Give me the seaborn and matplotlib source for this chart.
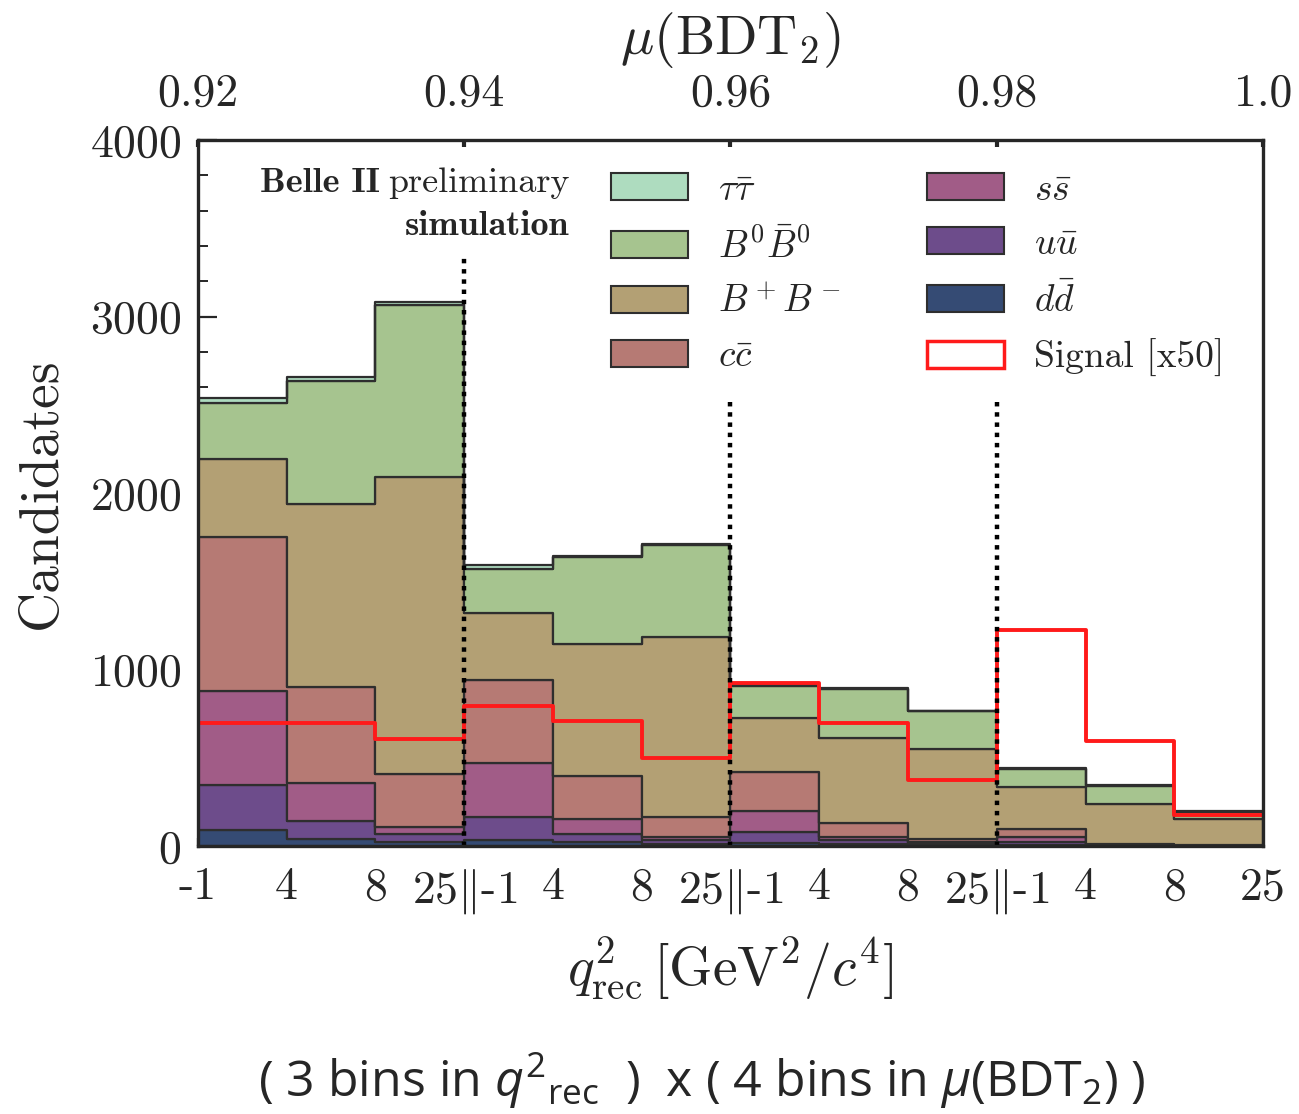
import numpy as np
import pandas as pd
import matplotlib
matplotlib.use("Agg")
import matplotlib.pyplot as plt
from matplotlib.patches import Patch
from matplotlib.ticker import MultipleLocator
import seaborn as sns

# 12 analysis bins = 3 bins in q2_rec x 4 bins in mu(BDT2)
n_bins = 12
bin_edges = np.arange(n_bins + 1)
bin_centers = bin_edges[:-1] + 0.5

# background yields per bin (not cumulative)
tautau = [24, 24, 15, 25, 8, 7, 9, 5, 4, 4, 4, 4]
b0b0 = [319, 699, 974, 245, 492, 519, 183, 280, 213, 103, 104, 39]
bpbm = [442, 1033, 1687, 382, 748, 1022, 306, 478, 508, 236, 226, 150]
ccbar = [873, 544, 297, 472, 240, 111, 217, 79, 22, 46, 4, 2]
ssbar = [532, 216, 41, 306, 87, 21, 119, 19, 8, 25, 2, 1]
uubar = [258, 103, 43, 128, 44, 22, 66, 24, 7, 17, 2, 1]
ddbar = [88, 40, 25, 34, 24, 10, 15, 10, 5, 8, 2, 1]
signal_x50 = [697, 697, 604, 793, 708, 497, 925, 695, 376, 1225, 595, 176]

q2_labels = ["-1", "4", "8", r"25$\Vert$-1", "4", "8", r"25$\Vert$-1",
             "4", "8", r"25$\Vert$-1", "4", "8", "25"]
bdt_ticks = [0.92, 0.94, 0.96, 0.98, 1.0]
bdt_labels = ["0.92", "0.94", "0.96", "0.98", "1.0"]

names = [r"$\tau\bar{\tau}$", r"$B^0\bar{B}^0$", r"$B^+B^-$", r"$c\bar{c}$",
         r"$s\bar{s}$", r"$u\bar{u}$", r"$d\bar{d}$"]
yields = [tautau, b0b0, bpbm, ccbar, ssbar, uubar, ddbar]
colors = ["#aedcbf", "#a6c48f", "#b3a074", "#b67a74", "#a15c87", "#6d4c8b", "#354b74"]

rows = []
for name, vals in zip(names, yields):
    for c, v in zip(bin_centers, vals):
        rows.append({"bin": c, "count": v, "process": name})
df = pd.DataFrame(rows)
sig = pd.DataFrame({"bin": bin_centers, "count": signal_x50})

sns.set_style("ticks")
plt.rcParams["font.family"] = "serif"
plt.rcParams["font.serif"] = ["cmr10", "DejaVu Serif"]
plt.rcParams["mathtext.fontset"] = "cm"
plt.rcParams["axes.unicode_minus"] = False
plt.rcParams["axes.formatter.use_mathtext"] = True
plt.rcParams["mathtext.rm"] = "Open Sans"
plt.rcParams["mathtext.it"] = "Open Sans:italic"

fig = plt.figure(figsize=(12.99, 11.14), dpi=100)
ax = fig.add_axes([0.1524, 0.2406, 0.8199, 0.6337])

# stacked backgrounds: first hue level ends up on top of the stack
sns.histplot(data=df, x="bin", weights="count", hue="process", hue_order=names,
             palette=dict(zip(names, colors)), bins=n_bins, binrange=(0, n_bins),
             multiple="stack", element="step", edgecolor="#2e2e2e", linewidth=1.6,
             alpha=1, legend=False, ax=ax)

# signal scaled by 50
sns.histplot(data=sig, x="bin", weights="count", bins=n_bins, binrange=(0, n_bins),
             element="step", fill=False, color="#ff1a1a", linewidth=2.8, ax=ax)

# separators between the mu(BDT2) bins
ax.vlines(3, 0, 3330, colors="black", linestyles=(0, (1, 1.3)), linewidth=3.2)
ax.vlines([6, 9], 0, 2540, colors="black", linestyles=(0, (1, 1.3)), linewidth=3.2)

ax.set_xlim(0, n_bins)
ax.set_ylim(0, 4000)
ax.set_xticks(bin_edges)
ax.set_xticklabels(q2_labels)
ax.yaxis.set_major_locator(MultipleLocator(1000))
ax.yaxis.set_minor_locator(MultipleLocator(200))
ax.tick_params(axis="both", which="major", direction="in", labelsize=33, width=1.6)
ax.tick_params(axis="y", which="major", length=14, pad=12)
ax.tick_params(axis="y", which="minor", direction="in", length=7, width=1.4)
ax.tick_params(axis="x", which="major", length=6, pad=15)
ax.set_xlabel(r"$q^2_{\rm rec}\,[\mathrm{GeV}^2/c^4]$", fontsize=40, labelpad=14)
ax.set_ylabel("Candidates", fontsize=40, labelpad=16)
for s in ax.spines.values():
    s.set_linewidth(2.4)

ax2 = ax.twiny()
ax2.set_xlim(0.92, 1.0)
ax2.set_xticks(bdt_ticks)
ax2.set_xticklabels(bdt_labels)
ax2.tick_params(axis="x", direction="in", length=5, width=3, labelsize=33, pad=18)
ax2.set_xlabel(r"$\mu(\mathrm{BDT}_2)$", fontsize=40, labelpad=14)

# "Belle II preliminary / simulation" block, right-aligned
t_pre = ax.text(0.349, 0.939, "preliminary", transform=ax.transAxes,
                ha="right", va="center", fontsize=26, family="cmr10")
ax.text(0.349, 0.878, "simulation", transform=ax.transAxes,
        ha="right", va="center", fontsize=26, family="cmb10")
fig.canvas.draw()
bb = t_pre.get_window_extent().transformed(ax.transAxes.inverted())
ax.text(bb.x0 - 0.008, 0.939, "Belle II", transform=ax.transAxes,
        ha="right", va="center", fontsize=26, family="cmb10")

handles = [Patch(facecolor=c, edgecolor="#2e2e2e", linewidth=1.5) for c in colors]
handles.append(Patch(facecolor="white", edgecolor="#ff1a1a", linewidth=2.5))
labels = names + ["Signal [x50]"]
ax.legend(handles, labels, ncol=2,
          loc="upper left", bbox_to_anchor=(0.388, 0.953), frameon=False,
          fontsize=27, handlelength=2.05, handleheight=0.72, handletextpad=0.8,
          labelspacing=0.55, columnspacing=2.3, borderpad=0, borderaxespad=0)

fig.text(0.54, 0.03, r"( 3 bins in $q^2{}_{\mathrm{rec}}$  )  x ( 4 bins in $\mu$(BDT$_2$) )",
         ha="center", va="center", fontsize=36, family="Open Sans", math_fontfamily="custom")

fig.savefig("out.png", dpi=100)
